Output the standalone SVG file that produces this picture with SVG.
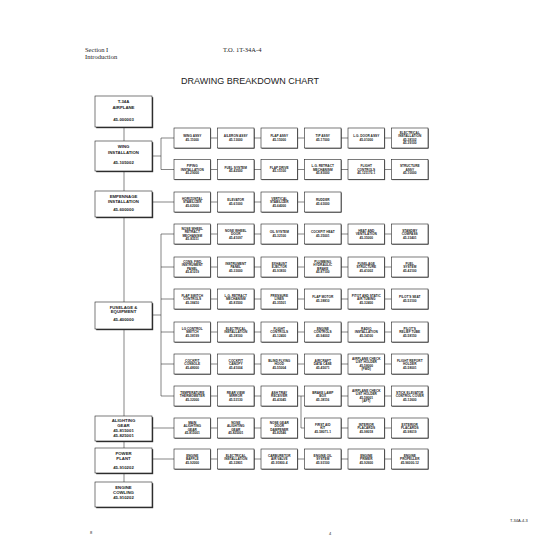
<svg xmlns="http://www.w3.org/2000/svg" width="550" height="550" viewBox="0 0 550 550">
<style>
.bg{fill:#fff}
.b{fill:#fff;stroke:#222;stroke-width:0.6}
.sh{fill:#333}
.t{font-family:"Liberation Sans",Arial,sans-serif;font-size:3.2px;font-weight:bold;text-anchor:middle;fill:#222}
.L{font-size:4.3px}
.c{stroke:#333;stroke-width:0.6;fill:none}
.hd{font-family:"Liberation Serif","Times New Roman",serif;font-size:6.5px;fill:#222}
.ti{font-family:"Liberation Sans",Arial,sans-serif;font-size:9px;fill:#222;text-anchor:middle}
.sm{font-family:"Liberation Sans",Arial,sans-serif;font-size:4px;fill:#222}
</style>
<rect class="bg" width="550" height="550"/>
<text class="hd" x="85" y="52">Section I</text>
<text class="hd" x="85" y="59">Introduction</text>
<text class="hd" x="223" y="52">T.O. 1T-34A-4</text>
<text class="ti" x="250" y="84">DRAWING BREAKDOWN CHART</text>
<text class="sm" x="90" y="534">8</text>
<text class="sm" x="329" y="535">4</text>
<text class="sm" x="510" y="522">T-34A-4-3</text>

<g id="connectors" class="c">
<path d="M124,127V482"/>
<path d="M152,156H161M161,138V169.5M161,138H174M161,169.5H174"/>
<path d="M152,202H174"/>
<path d="M152,315H161M161,234V396M161,234H174M161,267H174M161,299H174M161,332H174M161,364H174M161,396H174"/>
<path d="M152,428H174"/>
<path d="M152,459H174"/>
<path d="M210.5,138H217.5M254,138H261M297.5,138H304.5M341,138H348M384.5,138H391.5"/>
<path d="M210.5,169.5H217.5M254,169.5H261M297.5,169.5H304.5M341,169.5H348M384.5,169.5H391.5"/>
<path d="M210.5,202H217.5M254,202H261M297.5,202H304.5"/>
<path d="M210.5,234H217.5M254,234H261M297.5,234H304.5M341,234H348M384.5,234H391.5"/>
<path d="M210.5,267H217.5M254,267H261M297.5,267H304.5M341,267H348M384.5,267H391.5"/>
<path d="M210.5,299H217.5M254,299H261M297.5,299H304.5M341,299H348M384.5,299H391.5"/>
<path d="M210.5,332H217.5M254,332H261M297.5,332H304.5M341,332H348M384.5,332H391.5"/>
<path d="M210.5,364H217.5M254,364H261M297.5,364H304.5M341,364H348M384.5,364H391.5"/>
<path d="M210.5,396H217.5M254,396H261M297.5,396H304.5M341,396H348M384.5,396H391.5"/>
<path d="M301,396V428H304.5"/>
<path d="M210.5,428H217.5M254,428H261M341,428H348M384.5,428H391.5"/>
<path d="M210.5,459H217.5M254,459H261M297.5,459H304.5M341,459H348M384.5,459H391.5"/>
</g>

<!-- left column -->
<g id="n-airplane"><rect class="sh" x="96.2" y="97.2" width="57" height="31"/><rect class="b" x="95" y="96" width="57" height="31"/>
<text class="t L" x="123.5" y="103"><tspan x="123.5">T-34A</tspan><tspan x="123.5" dy="5.5">AIRPLANE</tspan><tspan x="123.5" dy="12.5">45-000003</tspan></text></g>
<g id="n-wing"><rect class="sh" x="96.2" y="142.2" width="57" height="30"/><rect class="b" x="95" y="141" width="57" height="30"/>
<text class="t L" x="123.5" y="148"><tspan x="123.5">WING</tspan><tspan x="123.5" dy="5.8">INSTALLATION</tspan><tspan x="123.5" dy="10.5">45-105002</tspan></text></g>
<g id="n-empennage"><rect class="sh" x="96.2" y="192.2" width="57" height="26"/><rect class="b" x="95" y="191" width="57" height="26"/>
<text class="t L" x="123.5" y="197.5"><tspan x="123.5">EMPENNAGE</tspan><tspan x="123.5" dy="5.2">INSTALLATION</tspan><tspan x="123.5" dy="8.5">45-600000</tspan></text></g>
<g id="n-fuselage"><rect class="sh" x="96.2" y="303.2" width="57" height="27"/><rect class="b" x="95" y="302" width="57" height="27"/>
<text class="t L" x="123.5" y="308.5"><tspan x="123.5">FUSELAGE &amp;</tspan><tspan x="123.5" dy="4.8">EQUIPMENT</tspan><tspan x="123.5" dy="8">45-400000</tspan></text></g>
<g id="n-alighting"><rect class="sh" x="96.2" y="417.2" width="57" height="25"/><rect class="b" x="95" y="416" width="57" height="25"/>
<text class="t L" x="123.5" y="422"><tspan x="123.5">ALIGHTING</tspan><tspan x="123.5" dy="5">GEAR</tspan><tspan x="123.5" dy="5">45-815001</tspan><tspan x="123.5" dy="4.6">45-825001</tspan></text></g>
<g id="n-powerplant"><rect class="sh" x="96.2" y="449.2" width="57" height="25"/><rect class="b" x="95" y="448" width="57" height="25"/>
<text class="t L" x="123.5" y="454.5"><tspan x="123.5">POWER</tspan><tspan x="123.5" dy="5.5">PLANT</tspan><tspan x="123.5" dy="9">45-910202</tspan></text></g>
<g id="n-cowling"><rect class="sh" x="96.2" y="483.2" width="57" height="25"/><rect class="b" x="95" y="482" width="57" height="25"/>
<text class="t L" x="123.5" y="489"><tspan x="123.5">ENGINE</tspan><tspan x="123.5" dy="5">COWLING</tspan><tspan x="123.5" dy="5">45-910202</tspan></text></g>

<!-- wing row 1 -->
<g id="w1a"><rect class="sh" x="174.6" y="128.6" width="36.5" height="20"/><rect class="b" x="174" y="128" width="36.5" height="20"/><text class="t"><tspan x="192.25" y="137.45">WING ASSY</tspan><tspan x="192.25" y="140.95">45-11000</tspan></text></g>
<g id="w1b"><rect class="sh" x="218.1" y="128.6" width="36.5" height="20"/><rect class="b" x="217.5" y="128" width="36.5" height="20"/><text class="t"><tspan x="235.75" y="137.45">AILERON ASSY</tspan><tspan x="235.75" y="140.95">45-13000</tspan></text></g>
<g id="w1c"><rect class="sh" x="261.6" y="128.6" width="36.5" height="20"/><rect class="b" x="261" y="128" width="36.5" height="20"/><text class="t"><tspan x="279.25" y="137.45">FLAP ASSY</tspan><tspan x="279.25" y="140.95">45-15000</tspan></text></g>
<g id="w1d"><rect class="sh" x="305.1" y="128.6" width="36.5" height="20"/><rect class="b" x="304.5" y="128" width="36.5" height="20"/><text class="t"><tspan x="322.75" y="137.45">TIP ASSY</tspan><tspan x="322.75" y="140.95">45-17000</tspan></text></g>
<g id="w1e"><rect class="sh" x="348.6" y="128.6" width="36.5" height="20"/><rect class="b" x="348" y="128" width="36.5" height="20"/><text class="t"><tspan x="366.25" y="137.45">L.G. DOOR ASSY</tspan><tspan x="366.25" y="140.95">45-01000</tspan></text></g>
<g id="w1f"><rect class="sh" x="392.1" y="128.6" width="36.5" height="20"/><rect class="b" x="391.5" y="128" width="36.5" height="20"/><text class="t"><tspan x="409.75" y="133.95">ELECTRICAL</tspan><tspan x="409.75" y="137.45">INSTALLATION</tspan><tspan x="409.75" y="140.95">45-38102</tspan><tspan x="409.75" y="144.45">45-39100</tspan></text></g>

<!-- wing row 2 -->
<g id="w2a"><rect class="sh" x="174.6" y="160.1" width="36.5" height="20"/><rect class="b" x="174" y="159.5" width="36.5" height="20"/><text class="t"><tspan x="192.25" y="167.2">PIPING</tspan><tspan x="192.25" y="170.7">INSTALLATION</tspan><tspan x="192.25" y="174.2">45-29000</tspan></text></g>
<g id="w2b"><rect class="sh" x="218.1" y="160.1" width="36.5" height="20"/><rect class="b" x="217.5" y="159.5" width="36.5" height="20"/><text class="t"><tspan x="235.75" y="168.95">FUEL SYSTEM</tspan><tspan x="235.75" y="172.45">45-42500</tspan></text></g>
<g id="w2c"><rect class="sh" x="261.6" y="160.1" width="36.5" height="20"/><rect class="b" x="261" y="159.5" width="36.5" height="20"/><text class="t"><tspan x="279.25" y="168.95">FLAP DRIVE</tspan><tspan x="279.25" y="172.45">45-15100</tspan></text></g>
<g id="w2d"><rect class="sh" x="305.1" y="160.1" width="36.5" height="20"/><rect class="b" x="304.5" y="159.5" width="36.5" height="20"/><text class="t"><tspan x="322.75" y="167.2">L.G. RETRACT</tspan><tspan x="322.75" y="170.7">MECHANISM</tspan><tspan x="322.75" y="174.2">45-83000</tspan></text></g>
<g id="w2e"><rect class="sh" x="348.6" y="160.1" width="36.5" height="20"/><rect class="b" x="348" y="159.5" width="36.5" height="20"/><text class="t"><tspan x="366.25" y="167.2">FLIGHT</tspan><tspan x="366.25" y="170.7">CONTROLS</tspan><tspan x="366.25" y="174.2">45-121170-1</tspan></text></g>
<g id="w2f"><rect class="sh" x="392.1" y="160.1" width="36.5" height="20"/><rect class="b" x="391.5" y="159.5" width="36.5" height="20"/><text class="t"><tspan x="409.75" y="167.2">STRUCTURE</tspan><tspan x="409.75" y="170.7">ASSY</tspan><tspan x="409.75" y="174.2">45-10000</tspan></text></g>

<!-- empennage row -->
<g id="e1"><rect class="sh" x="174.6" y="192.6" width="36.5" height="20"/><rect class="b" x="174" y="192" width="36.5" height="20"/><text class="t"><tspan x="192.25" y="199.7">HORIZONTAL</tspan><tspan x="192.25" y="203.2">STABILIZER</tspan><tspan x="192.25" y="206.7">45-62000</tspan></text></g>
<g id="e2"><rect class="sh" x="218.1" y="192.6" width="36.5" height="20"/><rect class="b" x="217.5" y="192" width="36.5" height="20"/><text class="t"><tspan x="235.75" y="201.45">ELEVATOR</tspan><tspan x="235.75" y="204.95">45-61000</tspan></text></g>
<g id="e3"><rect class="sh" x="261.6" y="192.6" width="36.5" height="20"/><rect class="b" x="261" y="192" width="36.5" height="20"/><text class="t"><tspan x="279.25" y="199.7">VERTICAL</tspan><tspan x="279.25" y="203.2">STABILIZER</tspan><tspan x="279.25" y="206.7">45-64000</tspan></text></g>
<g id="e4"><rect class="sh" x="305.1" y="192.6" width="36.5" height="20"/><rect class="b" x="304.5" y="192" width="36.5" height="20"/><text class="t"><tspan x="322.75" y="201.45">RUDDER</tspan><tspan x="322.75" y="204.95">45-63000</tspan></text></g>

<!-- fuselage row 1 -->
<g id="f1a"><rect class="sh" x="174.6" y="224.6" width="36.5" height="20"/><rect class="b" x="174" y="224" width="36.5" height="20"/><text class="t"><tspan x="192.25" y="229.95">NOSE WHEEL</tspan><tspan x="192.25" y="233.45">RETRACT</tspan><tspan x="192.25" y="236.95">MECHANISM</tspan><tspan x="192.25" y="240.45">45-83511</tspan></text></g>
<g id="f1b"><rect class="sh" x="218.1" y="224.6" width="36.5" height="20"/><rect class="b" x="217.5" y="224" width="36.5" height="20"/><text class="t"><tspan x="235.75" y="231.7">NOSE WHEEL</tspan><tspan x="235.75" y="235.2">DOOR</tspan><tspan x="235.75" y="238.7">45-41097</tspan></text></g>
<g id="f1c"><rect class="sh" x="261.6" y="224.6" width="36.5" height="20"/><rect class="b" x="261" y="224" width="36.5" height="20"/><text class="t"><tspan x="279.25" y="233.45">OIL SYSTEM</tspan><tspan x="279.25" y="236.95">45-32100</tspan></text></g>
<g id="f1d"><rect class="sh" x="305.1" y="224.6" width="36.5" height="20"/><rect class="b" x="304.5" y="224" width="36.5" height="20"/><text class="t"><tspan x="322.75" y="233.45">COCKPIT HEAT</tspan><tspan x="322.75" y="236.95">45-35001</tspan></text></g>
<g id="f1e"><rect class="sh" x="348.6" y="224.6" width="36.5" height="20"/><rect class="b" x="348" y="224" width="36.5" height="20"/><text class="t"><tspan x="366.25" y="231.7">HEAT AND</tspan><tspan x="366.25" y="235.2">VENTILATION</tspan><tspan x="366.25" y="238.7">45-35000</tspan></text></g>
<g id="f1f"><rect class="sh" x="392.1" y="224.6" width="36.5" height="20"/><rect class="b" x="391.5" y="224" width="36.5" height="20"/><text class="t"><tspan x="409.75" y="231.7">STANDBY</tspan><tspan x="409.75" y="235.2">COMPASS</tspan><tspan x="409.75" y="238.7">45-33401</tspan></text></g>

<!-- fuselage row 2 -->
<g id="f2a"><rect class="sh" x="174.6" y="257.6" width="36.5" height="20"/><rect class="b" x="174" y="257" width="36.5" height="20"/><text class="t"><tspan x="192.25" y="262.95">CONS. FWD</tspan><tspan x="192.25" y="266.45">INSTRUMENT</tspan><tspan x="192.25" y="269.95">PANEL</tspan><tspan x="192.25" y="273.45">45-41019</tspan></text></g>
<g id="f2b"><rect class="sh" x="218.1" y="257.6" width="36.5" height="20"/><rect class="b" x="217.5" y="257" width="36.5" height="20"/><text class="t"><tspan x="235.75" y="264.7">INSTRUMENT</tspan><tspan x="235.75" y="268.2">PANEL</tspan><tspan x="235.75" y="271.7">45-33000</tspan></text></g>
<g id="f2c"><rect class="sh" x="261.6" y="257.6" width="36.5" height="20"/><rect class="b" x="261" y="257" width="36.5" height="20"/><text class="t"><tspan x="279.25" y="264.7">EXHAUST</tspan><tspan x="279.25" y="268.2">EJECTOR</tspan><tspan x="279.25" y="271.7">45-93830</tspan></text></g>
<g id="f2d"><rect class="sh" x="305.1" y="257.6" width="36.5" height="20"/><rect class="b" x="304.5" y="257" width="36.5" height="20"/><text class="t"><tspan x="322.75" y="262.95">PLUMBING</tspan><tspan x="322.75" y="266.45">HYDRAULIC</tspan><tspan x="322.75" y="269.95">BRAKE</tspan><tspan x="322.75" y="273.45">45-87100</tspan></text></g>
<g id="f2e"><rect class="sh" x="348.6" y="257.6" width="36.5" height="20"/><rect class="b" x="348" y="257" width="36.5" height="20"/><text class="t"><tspan x="366.25" y="264.7">FUSELAGE</tspan><tspan x="366.25" y="268.2">STRUCTURE</tspan><tspan x="366.25" y="271.7">45-41002</tspan></text></g>
<g id="f2f"><rect class="sh" x="392.1" y="257.6" width="36.5" height="20"/><rect class="b" x="391.5" y="257" width="36.5" height="20"/><text class="t"><tspan x="409.75" y="264.7">FUEL</tspan><tspan x="409.75" y="268.2">SYSTEM</tspan><tspan x="409.75" y="271.7">45-42100</tspan></text></g>

<!-- fuselage row 3 -->
<g id="f3a"><rect class="sh" x="174.6" y="289.6" width="36.5" height="20"/><rect class="b" x="174" y="289" width="36.5" height="20"/><text class="t"><tspan x="192.25" y="296.7">FLAP SWITCH</tspan><tspan x="192.25" y="300.2">CONTROLS</tspan><tspan x="192.25" y="303.7">45-38410</tspan></text></g>
<g id="f3b"><rect class="sh" x="218.1" y="289.6" width="36.5" height="20"/><rect class="b" x="217.5" y="289" width="36.5" height="20"/><text class="t"><tspan x="235.75" y="296.7">L.G. RETRACT</tspan><tspan x="235.75" y="300.2">MECHANISM</tspan><tspan x="235.75" y="303.7">45-83500</tspan></text></g>
<g id="f3c"><rect class="sh" x="261.6" y="289.6" width="36.5" height="20"/><rect class="b" x="261" y="289" width="36.5" height="20"/><text class="t"><tspan x="279.25" y="296.7">PRESSURE</tspan><tspan x="279.25" y="300.2">LINES</tspan><tspan x="279.25" y="303.7">45-35501</tspan></text></g>
<g id="f3d"><rect class="sh" x="305.1" y="289.6" width="36.5" height="20"/><rect class="b" x="304.5" y="289" width="36.5" height="20"/><text class="t"><tspan x="322.75" y="298.45">FLAP MOTOR</tspan><tspan x="322.75" y="301.95">45-38810</tspan></text></g>
<g id="f3e"><rect class="sh" x="348.6" y="289.6" width="36.5" height="20"/><rect class="b" x="348" y="289" width="36.5" height="20"/><text class="t"><tspan x="366.25" y="296.7">PITOT AND STATIC</tspan><tspan x="366.25" y="300.2">AIR TUBING</tspan><tspan x="366.25" y="303.7">45-32400</tspan></text></g>
<g id="f3f"><rect class="sh" x="392.1" y="289.6" width="36.5" height="20"/><rect class="b" x="391.5" y="289" width="36.5" height="20"/><text class="t"><tspan x="409.75" y="298.45">PILOT'S SEAT</tspan><tspan x="409.75" y="301.95">45-53100</tspan></text></g>

<!-- fuselage row 4 -->
<g id="f4a"><rect class="sh" x="174.6" y="322.6" width="36.5" height="20"/><rect class="b" x="174" y="322" width="36.5" height="20"/><text class="t"><tspan x="192.25" y="329.7">LG CONTROL</tspan><tspan x="192.25" y="333.2">SWITCH</tspan><tspan x="192.25" y="336.7">45-38199</tspan></text></g>
<g id="f4b"><rect class="sh" x="218.1" y="322.6" width="36.5" height="20"/><rect class="b" x="217.5" y="322" width="36.5" height="20"/><text class="t"><tspan x="235.75" y="329.7">ELECTRICAL</tspan><tspan x="235.75" y="333.2">INSTALLATION</tspan><tspan x="235.75" y="336.7">45-38100</tspan></text></g>
<g id="f4c"><rect class="sh" x="261.6" y="322.6" width="36.5" height="20"/><rect class="b" x="261" y="322" width="36.5" height="20"/><text class="t"><tspan x="279.25" y="329.7">FLIGHT</tspan><tspan x="279.25" y="333.2">CONTROLS</tspan><tspan x="279.25" y="336.7">45-12400</tspan></text></g>
<g id="f4d"><rect class="sh" x="305.1" y="322.6" width="36.5" height="20"/><rect class="b" x="304.5" y="322" width="36.5" height="20"/><text class="t"><tspan x="322.75" y="329.7">ENGINE</tspan><tspan x="322.75" y="333.2">CONTROLS</tspan><tspan x="322.75" y="336.7">45-94002</tspan></text></g>
<g id="f4e"><rect class="sh" x="348.6" y="322.6" width="36.5" height="20"/><rect class="b" x="348" y="322" width="36.5" height="20"/><text class="t"><tspan x="366.25" y="329.7">RADIO</tspan><tspan x="366.25" y="333.2">INSTALLATION</tspan><tspan x="366.25" y="336.7">45-34100</tspan></text></g>
<g id="f4f"><rect class="sh" x="392.1" y="322.6" width="36.5" height="20"/><rect class="b" x="391.5" y="322" width="36.5" height="20"/><text class="t"><tspan x="409.75" y="329.7">PILOT'S</tspan><tspan x="409.75" y="333.2">RELIEF TUBE</tspan><tspan x="409.75" y="336.7">45-58150</tspan></text></g>

<!-- fuselage row 5 -->
<g id="f5a"><rect class="sh" x="174.6" y="354.6" width="36.5" height="20"/><rect class="b" x="174" y="354" width="36.5" height="20"/><text class="t"><tspan x="192.25" y="361.7">COCKPIT</tspan><tspan x="192.25" y="365.2">CONSOLE</tspan><tspan x="192.25" y="368.7">45-48000</tspan></text></g>
<g id="f5b"><rect class="sh" x="218.1" y="354.6" width="36.5" height="20"/><rect class="b" x="217.5" y="354" width="36.5" height="20"/><text class="t"><tspan x="235.75" y="361.7">COCKPIT</tspan><tspan x="235.75" y="365.2">CANOPY</tspan><tspan x="235.75" y="368.7">45-41004</tspan></text></g>
<g id="f5c"><rect class="sh" x="261.6" y="354.6" width="36.5" height="20"/><rect class="b" x="261" y="354" width="36.5" height="20"/><text class="t"><tspan x="279.25" y="361.7">BLIND FLYING</tspan><tspan x="279.25" y="365.2">HOOD</tspan><tspan x="279.25" y="368.7">45-55004</tspan></text></g>
<g id="f5d"><rect class="sh" x="305.1" y="354.6" width="36.5" height="20"/><rect class="b" x="304.5" y="354" width="36.5" height="20"/><text class="t"><tspan x="322.75" y="361.7">AIRCRAFT</tspan><tspan x="322.75" y="365.2">DATA CASE</tspan><tspan x="322.75" y="368.7">45-45071</tspan></text></g>
<g id="f5e"><rect class="sh" x="348.6" y="354.6" width="36.5" height="20"/><rect class="b" x="348" y="354" width="36.5" height="20"/><text class="t"><tspan x="366.25" y="359.95">AIRPLANE CHECK</tspan><tspan x="366.25" y="363.45">LIST HOLDER</tspan><tspan x="366.25" y="366.95">45-58000</tspan><tspan x="366.25" y="370.45">(FWD)</tspan></text></g>
<g id="f5f"><rect class="sh" x="392.1" y="354.6" width="36.5" height="20"/><rect class="b" x="391.5" y="354" width="36.5" height="20"/><text class="t"><tspan x="409.75" y="361.7">FLIGHT REPORT</tspan><tspan x="409.75" y="365.2">HOLDER</tspan><tspan x="409.75" y="368.7">45-58001</tspan></text></g>

<!-- fuselage row 6 -->
<g id="f6a"><rect class="sh" x="174.6" y="386.6" width="36.5" height="20"/><rect class="b" x="174" y="386" width="36.5" height="20"/><text class="t"><tspan x="192.25" y="393.7">TEMPERATURE</tspan><tspan x="192.25" y="397.2">THERMOMETER</tspan><tspan x="192.25" y="400.7">45-32000</tspan></text></g>
<g id="f6b"><rect class="sh" x="218.1" y="386.6" width="36.5" height="20"/><rect class="b" x="217.5" y="386" width="36.5" height="20"/><text class="t"><tspan x="235.75" y="393.7">REAR VIEW</tspan><tspan x="235.75" y="397.2">MIRROR</tspan><tspan x="235.75" y="400.7">45-53130</tspan></text></g>
<g id="f6c"><rect class="sh" x="261.6" y="386.6" width="36.5" height="20"/><rect class="b" x="261" y="386" width="36.5" height="20"/><text class="t"><tspan x="279.25" y="393.7">ASH TRAY</tspan><tspan x="279.25" y="397.2">RECEIVER</tspan><tspan x="279.25" y="400.7">45-43045</tspan></text></g>
<g id="f6d"><rect class="sh" x="305.1" y="386.6" width="36.5" height="20"/><rect class="b" x="304.5" y="386" width="36.5" height="20"/><text class="t"><tspan x="322.75" y="393.7">BRAKE LAMP</tspan><tspan x="322.75" y="397.2">BOX</tspan><tspan x="322.75" y="400.7">45-38116</tspan></text></g>
<g id="f6e"><rect class="sh" x="348.6" y="386.6" width="36.5" height="20"/><rect class="b" x="348" y="386" width="36.5" height="20"/><text class="t"><tspan x="366.25" y="391.95">AIRPLANE CHECK</tspan><tspan x="366.25" y="395.45">LIST HOLDER</tspan><tspan x="366.25" y="398.95">45-58001</tspan><tspan x="366.25" y="402.45">(AFT)</tspan></text></g>
<g id="f6f"><rect class="sh" x="392.1" y="386.6" width="36.5" height="20"/><rect class="b" x="391.5" y="386" width="36.5" height="20"/><text class="t"><tspan x="409.75" y="393.7">STICK ELEVATOR</tspan><tspan x="409.75" y="397.2">CONTROL COVER</tspan><tspan x="409.75" y="400.7">45-12600</tspan></text></g>

<!-- alighting gear row -->
<g id="g1"><rect class="sh" x="174.6" y="418.6" width="36.5" height="20"/><rect class="b" x="174" y="418" width="36.5" height="20"/><text class="t"><tspan x="192.25" y="423.95">MAIN</tspan><tspan x="192.25" y="427.45">ALIGHTING</tspan><tspan x="192.25" y="430.95">GEAR</tspan><tspan x="192.25" y="434.45">45-815001</tspan></text></g>
<g id="g2"><rect class="sh" x="218.1" y="418.6" width="36.5" height="20"/><rect class="b" x="217.5" y="418" width="36.5" height="20"/><text class="t"><tspan x="235.75" y="423.95">NOSE</tspan><tspan x="235.75" y="427.45">ALIGHTING</tspan><tspan x="235.75" y="430.95">GEAR</tspan><tspan x="235.75" y="434.45">45-825001</tspan></text></g>
<g id="g3"><rect class="sh" x="261.6" y="418.6" width="36.5" height="20"/><rect class="b" x="261" y="418" width="36.5" height="20"/><text class="t"><tspan x="279.25" y="423.95">NOSE GEAR</tspan><tspan x="279.25" y="427.45">DOOR</tspan><tspan x="279.25" y="430.95">DAMPENER</tspan><tspan x="279.25" y="434.45">45-82546</tspan></text></g>
<g id="g4"><rect class="sh" x="305.1" y="418.6" width="36.5" height="20"/><rect class="b" x="304.5" y="418" width="36.5" height="20"/><text class="t"><tspan x="322.75" y="425.7">FIRST AID</tspan><tspan x="322.75" y="429.2">KIT</tspan><tspan x="322.75" y="432.7">45-58071-1</tspan></text></g>
<g id="g5"><rect class="sh" x="348.6" y="418.6" width="36.5" height="20"/><rect class="b" x="348" y="418" width="36.5" height="20"/><text class="t"><tspan x="366.25" y="425.7">INTERIOR</tspan><tspan x="366.25" y="429.2">PLACARDS</tspan><tspan x="366.25" y="432.7">45-98018</tspan></text></g>
<g id="g6"><rect class="sh" x="392.1" y="418.6" width="36.5" height="20"/><rect class="b" x="391.5" y="418" width="36.5" height="20"/><text class="t"><tspan x="409.75" y="425.7">EXTERIOR</tspan><tspan x="409.75" y="429.2">PLACARDS</tspan><tspan x="409.75" y="432.7">45-98019</tspan></text></g>

<!-- power plant row -->
<g id="p1"><rect class="sh" x="174.6" y="449.6" width="36.5" height="20"/><rect class="b" x="174" y="449" width="36.5" height="20"/><text class="t"><tspan x="192.25" y="456.7">ENGINE</tspan><tspan x="192.25" y="460.2">BAFFLE</tspan><tspan x="192.25" y="463.7">45-92000</tspan></text></g>
<g id="p2"><rect class="sh" x="218.1" y="449.6" width="36.5" height="20"/><rect class="b" x="217.5" y="449" width="36.5" height="20"/><text class="t"><tspan x="235.75" y="456.7">ELECTRICAL</tspan><tspan x="235.75" y="460.2">INSTALLATION</tspan><tspan x="235.75" y="463.7">45-32801</tspan></text></g>
<g id="p3"><rect class="sh" x="261.6" y="449.6" width="36.5" height="20"/><rect class="b" x="261" y="449" width="36.5" height="20"/><text class="t"><tspan x="279.25" y="456.7">CARBURETOR</tspan><tspan x="279.25" y="460.2">AIR VALVE</tspan><tspan x="279.25" y="463.7">45-91800-4</tspan></text></g>
<g id="p4"><rect class="sh" x="305.1" y="449.6" width="36.5" height="20"/><rect class="b" x="304.5" y="449" width="36.5" height="20"/><text class="t"><tspan x="322.75" y="456.7">ENGINE OIL</tspan><tspan x="322.75" y="460.2">SYSTEM</tspan><tspan x="322.75" y="463.7">45-93100</tspan></text></g>
<g id="p5"><rect class="sh" x="348.6" y="449.6" width="36.5" height="20"/><rect class="b" x="348" y="449" width="36.5" height="20"/><text class="t"><tspan x="366.25" y="456.7">ENGINE</tspan><tspan x="366.25" y="460.2">PRIMER</tspan><tspan x="366.25" y="463.7">45-92600</tspan></text></g>
<g id="p6"><rect class="sh" x="392.1" y="449.6" width="36.5" height="20"/><rect class="b" x="391.5" y="449" width="36.5" height="20"/><text class="t"><tspan x="409.75" y="456.7">ENGINE</tspan><tspan x="409.75" y="460.2">PROPELLER</tspan><tspan x="409.75" y="463.7">45-96000-12</tspan></text></g>
</svg>
